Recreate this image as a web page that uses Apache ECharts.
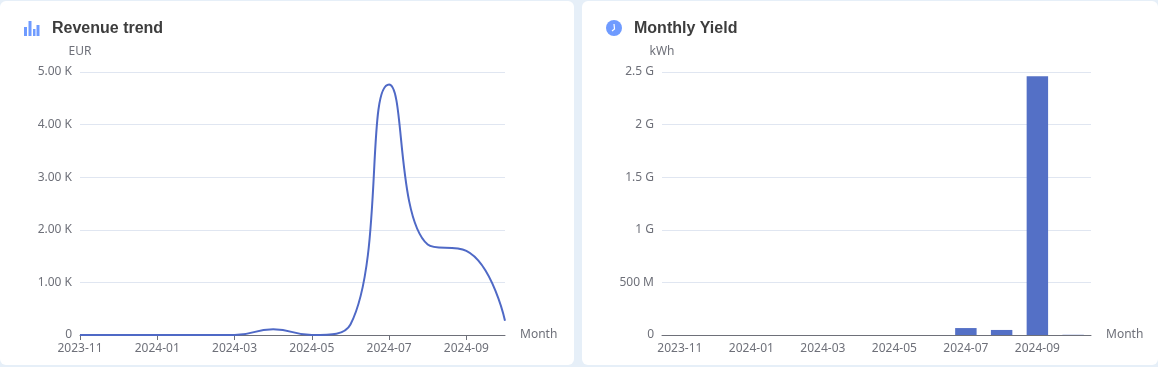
<!DOCTYPE html>
<html><head><meta charset="utf-8">
<style>html,body{margin:0;padding:0;background:#e6eff8}#c{width:1158px;height:367px}</style>
<script src="https://cdn.jsdelivr.net/npm/echarts@6/dist/echarts.min.js"></script>
</head><body><div id="c"></div>
<script>
const months = ['2023-11','2023-12','2024-01','2024-02','2024-03','2024-04','2024-05','2024-06','2024-07','2024-08','2024-09','2024-10'];
const revenueEUR = [0,0,0,0,0,110,0,200,4760,1720,1600,270];
const yieldKWh = [0,0,0,0,0,0,0,0,66000000,48000000,2460000000,2000000];
const revenueTicks = {0:'0',1000:'1.00 K',2000:'2.00 K',3000:'3.00 K',4000:'4.00 K',5000:'5.00 K'};
const yieldTicks = {0:'0',500000000:'500 M',1000000000:'1 G',1500000000:'1.5 G',2000000000:'2 G',2500000000:'2.5 G'};
const titles = ['Revenue trend','Monthly Yield'];
const units = ['EUR','kWh'];
const FONT = '"Noto Sans", sans-serif';
const TXT = '#6e7079';
function xAxis(i, gap){
  return {type:'category',gridIndex:i,data:months,boundaryGap:gap,name:'Month',nameGap:15,
    nameTextStyle:{color:TXT,fontFamily:FONT,fontSize:12,verticalAlign:'middle',padding:[0,0,4,0]},
    axisLine:{lineStyle:{color:TXT}},axisTick:{alignWithLabel:true,interval:1,lineStyle:{color:TXT}},
    axisLabel:{interval:1,color:TXT,fontFamily:FONT,fontSize:12,margin:8,hideOverlap:false}};
}
function yAxis(i,max,interval,ticks){
  return {type:'value',gridIndex:i,min:0,max,interval,name:units[i],nameGap:15,
    nameTextStyle:{color:TXT,fontFamily:FONT,fontSize:12,padding:[0,0,-1,0]},
    axisLine:{show:false},axisTick:{show:false},
    splitLine:{lineStyle:{color:'#e0e6f1'}},
    axisLabel:{color:TXT,fontFamily:FONT,fontSize:12,margin:8,padding:[3,0,0,0],formatter:v=>ticks[v]}};
}
const titleStyle = {fontFamily:'"Liberation Sans", Arial, sans-serif',fontSize:16,fontWeight:'bold',color:'#3d3d3d'};
const chart = echarts.init(document.getElementById('c'),null,{renderer:'canvas'});
chart.setOption({
  animation:false,
  backgroundColor:'#e6eff8',
  title:[
    {text:titles[0],left:47,top:16,textStyle:titleStyle},
    {text:titles[1],left:629,top:16,textStyle:titleStyle}
  ],
  grid:[
    {left:80,top:72,width:425,height:263},
    {left:662,top:72,width:429,height:263}
  ],
  xAxis:[xAxis(0,false),xAxis(1,true)],
  yAxis:[yAxis(0,5000,1000,revenueTicks),yAxis(1,2500000000,500000000,yieldTicks)],
  series:[
    {type:'line',xAxisIndex:0,yAxisIndex:0,data:revenueEUR,smooth:true,showSymbol:false,lineStyle:{color:'#4f69c6',width:2},itemStyle:{color:'#4f69c6'}},
    {type:'bar',xAxisIndex:1,yAxisIndex:1,data:yieldKWh,barWidth:'60%',itemStyle:{color:'#5470c6'}}
  ],
  graphic:[
    {type:'rect',z:-10,shape:{x:0,y:1,width:574,height:364,r:6},style:{fill:'#fff'}},
    {type:'rect',z:-10,shape:{x:582,y:1,width:576,height:364,r:6},style:{fill:'#fff'}},
    {type:'rect',shape:{x:24,y:27,width:3,height:9},style:{fill:'#6f9bff'}},
    {type:'rect',shape:{x:28.5,y:21,width:3,height:15},style:{fill:'#6f9bff'}},
    {type:'rect',shape:{x:33,y:29,width:2.5,height:7},style:{fill:'#6f9bff'}},
    {type:'rect',shape:{x:36.5,y:25,width:3,height:11},style:{fill:'#6f9bff'}},
    {type:'circle',shape:{cx:614,cy:28,r:8},style:{fill:'#6f9bff'}},
    {type:'polyline',shape:{points:[[614,24],[614.5,29],[612,31]]},style:{stroke:'#fff',lineWidth:1.2,fill:null}}
  ]
});
</script></body></html>
